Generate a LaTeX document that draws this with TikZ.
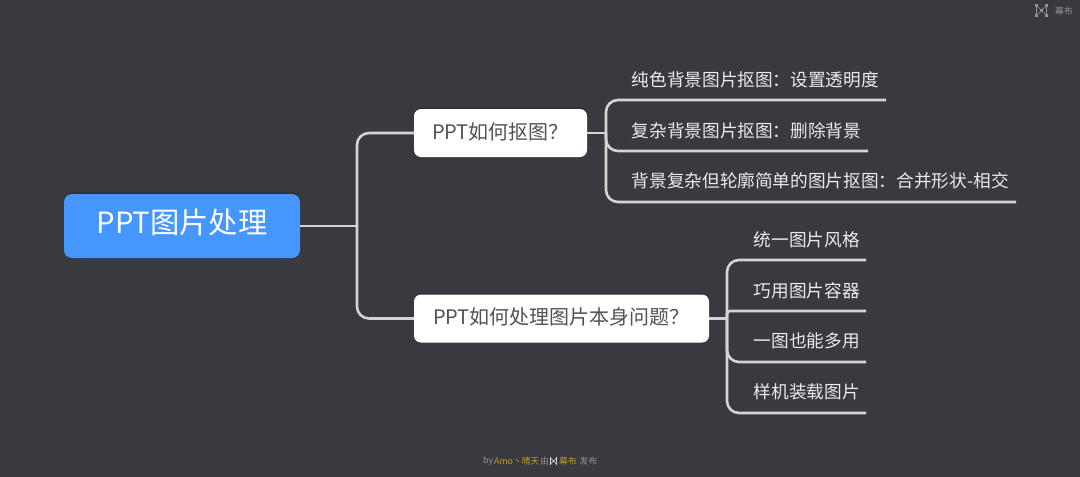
\documentclass[tikz,border=0pt]{standalone}
\usepackage{fontspec}
\setmainfont{Noto Sans CJK SC}
\usetikzlibrary{shadows}
\definecolor{bgdark}{HTML}{393A3F}
\definecolor{rootblue}{HTML}{4596FF}
\definecolor{linegray}{HTML}{D4D4D4}
\definecolor{markgold}{HTML}{C29A20}
\tikzset{
    rootbox/.style={draw=none, fill=rootblue, rounded corners=8, text=white, font=\fontsize{29.3}{30}\selectfont, minimum width=236, minimum height=64, inner sep=0, text height=15, text depth=0, general shadow={fill=black, opacity=.22, shadow yshift=-1.5}},
    branchbox/.style={draw=none, fill=white, rounded corners=7, text=black!68, font=\fontsize{20}{20}\selectfont, minimum height=48, inner sep=0, text height=12, text depth=0, general shadow={fill=black, opacity=.22, shadow yshift=-1.5}},
    leaftext/.style={anchor=west, inner sep=0, text=white!92!black, font=\fontsize{17.66}{18}\selectfont},
    link/.style={draw=linegray, line width=2.6, rounded corners=12},
    marktext/.style={anchor=west, inner sep=0, font=\fontsize{8.8}{9}\selectfont},
    logoicon/.pic={
        \draw[line width=.5, pic actions] (-#1,-#1)--(0,0)--(#1,#1) (-#1,#1)--(0,0)--(#1,-#1);
        \draw[line width=.5, pic actions] (-#1,-#1)--(-#1,#1) (#1,-#1)--(#1,#1);
        \foreach \sx/\sy in {-1/-1,-1/1,1/-1,1/1,0/0}
            \fill[pic actions] (\sx*#1-.32*#1,\sy*#1-.32*#1) rectangle (\sx*#1+.32*#1,\sy*#1+.32*#1);
    }
}

\begin{document}
\begin{tikzpicture}[x=1pt, y=-1pt]
    \fill[bgdark] (0,0) rectangle (1080,477);
    \useasboundingbox (0,0) rectangle (1080,477);

    % main boxes
    \node[rootbox] (root) at (182,226) {PPT图片处理};
    \node[branchbox, minimum width=173] (cutout) at (500.5,133) {PPT如何抠图？};
    \node[branchbox, minimum width=295] (issues) at (561.5,318.5) {PPT如何处理图片本身问题？};

    \coordinate (trunk) at (357,226);
    \coordinate (cutoutfork) at (606,133);
    \coordinate (issuesfork) at (727,318.5);

    % first group
    \node[leaftext] (plain) at (631.5,80) {纯色背景图片抠图：设置透明度};
    \node[leaftext] (complex) at (631.5,130.5) {复杂背景图片抠图：删除背景};
    \node[leaftext] (outline) at (631.5,181) {背景复杂但轮廓简单的图片抠图：合并形状-相交};
    \coordinate (plainend) at (886,100);
    \coordinate (complexend) at (868,151);
    \coordinate (outlineend) at (1016,202);

    % second group
    \node[leaftext] (style) at (753.5,240) {统一图片风格};
    \node[leaftext] (frame) at (753.5,290.5) {巧用图片容器};
    \node[leaftext] (reuse) at (753.5,341) {一图也能多用};
    \node[leaftext] (mockup) at (753.5,392) {样机装载图片};
    \coordinate (styleend) at (866,260);
    \coordinate (frameend) at (866,311);
    \coordinate (reuseend) at (866,362);
    \coordinate (mockupend) at (866,413);

    \draw[link] (root.east)--(trunk);
    \draw[link] (trunk) |- (cutout.west);
    \draw[link] (trunk) |- (issues.west);
    \draw[link] (cutout.east)--(cutoutfork);
    \draw[link] (issues.east)--(issuesfork);
    \foreach \leafend in {plainend, complexend, outlineend}
        \draw[link] (cutoutfork) |- (\leafend);
    \draw[link] (issuesfork) |- (styleend);
    \draw[link, rounded corners=3] (issuesfork) |- (frameend);
    \draw[link] (issuesfork) |- (reuseend);
    \draw[link] (issuesfork) |- (mockupend);

    % marks
    \path[fill=gray!85, draw=gray!85] (1041.5,10.5) pic {logoicon=5};
    \node[marktext, text=gray!85] (topmark) at (1055,11) {幕布};
    \node[marktext, text=gray!85] (byword) at (483,461) {by};
    \node[marktext, text=markgold] (author) at (494,461) {Amo丶晴天};
    \node[marktext, text=gray!85] (viaword) at (540,461) {由};
    \path[fill=white!85!black, draw=white!85!black] (553.5,461) pic {logoicon=3};
    \node[marktext, text=markgold] (footmark) at (559,461) {幕布};
    \node[marktext, text=gray!85] (release) at (579.5,461) {发布};
\end{tikzpicture}
\end{document}
